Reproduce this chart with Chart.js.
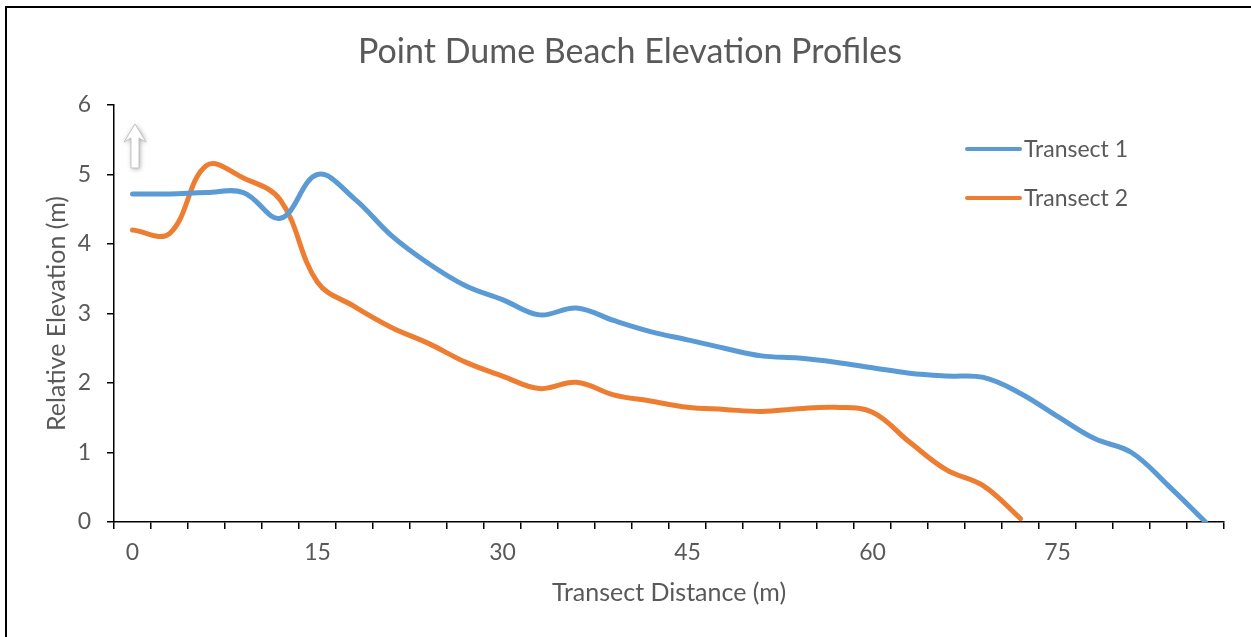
<!DOCTYPE html>
<html>
<head>
<meta charset="utf-8">
<title>Point Dume Beach Elevation Profiles</title>
<script src="https://cdn.jsdelivr.net/npm/chart.js@4.4.1/dist/chart.umd.min.js"></script>
<style>
  html, body { margin: 0; padding: 0; background: #ffffff; }
  #wrap { width: 1251px; height: 637px; position: relative; }
</style>
</head>
<body>
<div id="wrap"><canvas id="chart" width="1251" height="637"></canvas></div>
<script>
// Survey stations along each transect (m), every 3 m
const distances = [0, 3, 6, 9, 12, 15, 18, 21, 24, 27, 30, 33, 36, 39, 42,
                   45, 48, 51, 54, 57, 60, 63, 66, 69, 72, 75, 78, 81, 84, 87];

// Relative elevation (m) at each station
const transect1 = [4.72, 4.72, 4.74, 4.74, 4.37, 5.00, 4.65, 4.12, 3.72, 3.40,
                   3.20, 2.98, 3.08, 2.90, 2.74, 2.62, 2.50, 2.39, 2.36, 2.30,
                   2.22, 2.14, 2.10, 2.08, 1.85, 1.52, 1.20, 1.00, 0.52, 0.00];
const transect2 = [4.20, 4.15, 5.13, 4.95, 4.63, 3.45, 3.10, 2.80, 2.57, 2.30,
                   2.10, 1.92, 2.01, 1.83, 1.74, 1.65, 1.62, 1.59, 1.63, 1.65,
                   1.58, 1.15, 0.75, 0.52, 0.05];

const seriesNames = ['Transect 1', 'Transect 2'];
const labelEvery = 5;           // show every 5th station (0, 15, 30, ...)
const yTicks = [0, 1, 2, 3, 4, 5, 6];

const FONT = 'Lato, "Open Sans", "Liberation Sans", sans-serif';
const TEXT = '#595959';

// Outer frame of the chart object
const framePlugin = {
  id: 'frame',
  beforeDraw(chart) {
    const ctx = chart.ctx;
    ctx.save();
    ctx.fillStyle = '#ffffff';
    ctx.fillRect(0, 0, chart.width, chart.height);
    ctx.strokeStyle = '#000000';
    ctx.lineWidth = 2;
    ctx.beginPath();
    ctx.moveTo(6, chart.height + 2);
    ctx.lineTo(6, 7);
    ctx.lineTo(chart.width + 2, 7);
    ctx.stroke();
    ctx.restore();
  }
};

// Small hollow arrow marker near the top of the plot
const arrowPlugin = {
  id: 'arrowMark',
  afterDatasetsDraw(chart) {
    const ctx = chart.ctx;
    const x = chart.scales.x.left + 21;
    const y = chart.chartArea.top + 19;
    ctx.save();
    ctx.shadowColor = 'rgba(0,0,0,0.35)';
    ctx.shadowBlur = 5;
    ctx.shadowOffsetX = 1;
    ctx.shadowOffsetY = 1;
    ctx.beginPath();
    ctx.moveTo(x, y);
    ctx.lineTo(x + 11, y + 18);
    ctx.lineTo(x + 4, y + 14);
    ctx.lineTo(x + 4, y + 44);
    ctx.lineTo(x - 4, y + 44);
    ctx.lineTo(x - 4, y + 14);
    ctx.lineTo(x - 11, y + 18);
    ctx.closePath();
    ctx.fillStyle = '#ffffff';
    ctx.fill();
    ctx.shadowColor = 'transparent';
    ctx.strokeStyle = 'rgba(190,190,190,0.9)';
    ctx.lineWidth = 1;
    ctx.stroke();
    ctx.restore();
  }
};

// Legend inset at the upper right of the plot
const insetLegend = {
  id: 'insetLegend',
  afterDraw(chart) {
    const ctx = chart.ctx;
    const area = chart.chartArea;
    const x0 = area.right - 257;
    const y0 = area.top + 44;
    ctx.save();
    ctx.font = '23px ' + FONT;
    ctx.textBaseline = 'middle';
    ctx.lineCap = 'round';
    chart.data.datasets.forEach((ds, i) => {
      const y = y0 + i * 49;
      ctx.strokeStyle = ds.borderColor;
      ctx.lineWidth = 4;
      ctx.beginPath();
      ctx.moveTo(x0, y);
      ctx.lineTo(x0 + 53, y);
      ctx.stroke();
      ctx.fillStyle = TEXT;
      ctx.fillText(ds.label, x0 + 57, y + 1);
    });
    ctx.restore();
  }
};

new Chart(document.getElementById('chart'), {
  type: 'line',
  data: {
    labels: distances,
    datasets: [
      { label: seriesNames[0], data: transect1, borderColor: '#5B9BD5' },
      { label: seriesNames[1], data: transect2, borderColor: '#ED7D31' }
    ]
  },
  options: {
    responsive: false,
    animation: false,
    devicePixelRatio: 1,
    layout: { padding: { left: 9, right: 0, top: 0, bottom: 0 } },
    elements: {
      line: { borderWidth: 5, tension: 0.38, fill: false, borderCapStyle: 'round', borderJoinStyle: 'round' },
      point: { radius: 0, hoverRadius: 0 }
    },
    plugins: {
      legend: { display: false },
      tooltip: { enabled: false },
      title: {
        display: true,
        text: 'Point Dume Beach Elevation Profiles',
        color: TEXT,
        font: { family: FONT, size: 34, weight: 'normal', lineHeight: 1.2 },
        padding: { top: 32, bottom: 32.2 }
      }
    },
    scales: {
      x: {
        type: 'category',
        offset: true,
        grid: { offset: true, drawOnChartArea: false, drawTicks: true, tickLength: 7, color: '#000000', lineWidth: 1.5 },
        border: { display: true, color: '#000000', width: 1.5 },
        ticks: {
          autoSkip: false,
          maxRotation: 0,
          color: TEXT,
          padding: 10,
          font: { family: FONT, size: 23 },
          callback(value, index) { return index % labelEvery === 0 ? distances[index] : ''; }
        },
        title: {
          display: true,
          text: 'Transect Distance (m)',
          color: TEXT,
          font: { family: FONT, size: 25, lineHeight: 1.2 },
          padding: { top: 0, bottom: 29 }
        },
        afterFit(scale) { scale.height = 115; }
      },
      y: {
        min: yTicks[0],
        max: yTicks[yTicks.length - 1],
        grid: { drawOnChartArea: false, drawTicks: true, tickLength: 7, color: '#000000', lineWidth: 1.5 },
        border: { display: true, color: '#000000', width: 1.5 },
        afterBuildTicks(scale) { scale.ticks = yTicks.map(v => ({ value: v })); },
        ticks: {
          color: TEXT,
          padding: 16,
          font: { family: FONT, size: 23 }
        },
        title: {
          display: true,
          text: 'Relative Elevation (m)',
          color: TEXT,
          font: { family: FONT, size: 25, lineHeight: 1.2 },
          padding: { top: 33, bottom: 0 }
        },
        afterFit(scale) { scale.width = 105; }
      },
      // empty right-hand margin so the title stays centred on the whole frame
      rightMargin: {
        type: 'linear',
        position: 'right',
        display: true,
        grid: { display: false, drawTicks: false },
        border: { display: false },
        ticks: { display: false },
        afterFit(scale) { scale.width = 27; }
      }
    }
  },
  plugins: [framePlugin, arrowPlugin, insetLegend]
});
</script>
</body>
</html>
